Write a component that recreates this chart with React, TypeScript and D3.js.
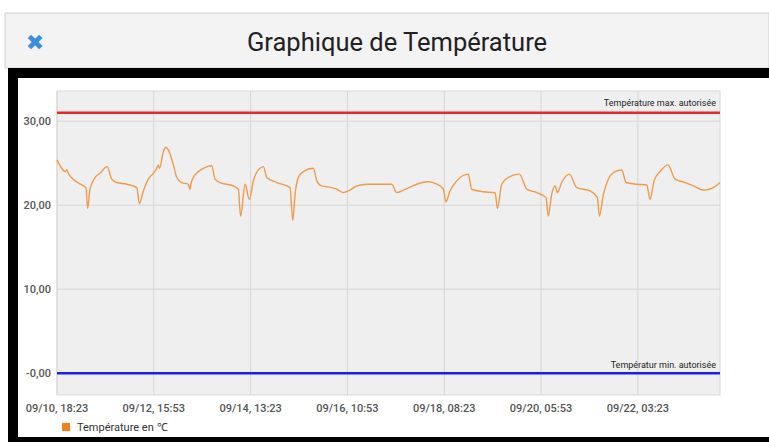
import React, { useEffect, useRef } from "react"
import * as d3 from "d3"

const startTime = new Date(2019, 8, 10, 18, 23)
const spanHours = 311.6

// hours since start
const hours = [
    0, 2.2, 3.8, 4.6, 5.3, 12.4, 13.6, 14.4, 15.5, 17.9, 20.2, 23.6, 25.7, 28.1, 32.8, 37.5, 38.7, 40.6, 42.9,
    45.3, 46.9, 47.6, 48.2, 50.0, 51.2, 52.3, 54.7, 56.3, 58.6, 61.7, 62.5, 63.0, 64.1, 66.4, 68.8, 72.7, 74.3,
    76.6, 82.9, 85.2, 86.3, 88.4, 90.4, 92.3, 94.6, 97.0, 98.6, 103.3, 109.5, 110.8, 111.9, 113.4, 115.8, 120.5,
    122.1, 124.4, 129.1, 131.5, 134.6, 137.7, 140.9, 145.6, 151.8, 157.3, 159.7, 162.8, 169.1, 174.5, 178.5,
    181.6, 182.8, 184.7, 187.9, 193.3, 194.9, 200.4, 205.9, 207.0, 209.0, 212.1, 217.3, 220.8, 225.5, 229.8,
    230.9, 232.5, 234.1, 235.2, 237.2, 240.8, 244.3, 250.5, 254.0, 254.9, 256.8, 259.1, 262.3, 265.4, 267.5,
    272.5, 277.2, 278.7, 280.6, 283.4, 287.1, 290.5, 295.2, 299.1, 304.1, 308.5, 311.6
]
const temps = [
    25.4, 24.4, 24.0, 24.2, 23.8, 22.3, 22.1, 19.6, 21.9, 23.3, 23.8, 24.6, 23.1, 22.7, 22.5, 22.1, 20.2, 21.7, 23.1,
    23.8, 24.4, 24.8, 24.4, 26.4, 26.9, 26.6, 24.8, 23.3, 22.7, 22.5, 21.9, 22.6, 23.3, 24.0, 24.4, 24.7, 23.1,
    22.7, 22.3, 21.9, 18.7, 22.5, 20.7, 22.9, 24.2, 24.6, 23.3, 22.7, 22.1, 18.2, 21.3, 23.3, 24.0, 24.4,
    22.9, 22.3, 22.1, 21.9, 21.5, 21.8, 22.3, 22.5, 22.5, 22.5, 21.5, 21.8, 22.5, 22.8, 22.5,
    21.9, 20.4, 21.7, 22.9, 23.7, 21.9, 21.6, 21.5, 19.6, 22.5, 23.3, 23.7, 21.9, 21.5, 20.9,
    18.7, 21.3, 22.3, 21.5, 22.7, 23.7, 22.1, 21.7, 20.9, 18.7, 21.3, 23.1, 24.0, 24.2, 22.7,
    22.5, 22.4, 20.7, 22.9, 24.0, 24.8, 23.1, 22.7, 22.3, 21.8, 22.1, 22.7
]

const maxAllowed = 31
const minAllowed = 0
const yTicks = [0, 10, 20, 30]
const yTickLabels = ["-0,00", "10,00", "20,00", "30,00"]
const xTickHours = [0, 45.5, 91, 136.5, 182, 227.5, 273]

const hourMs = 3600 * 1000

function Chart() {
    const ref = useRef(null)

    useEffect(() => {
        const svg = d3.select(ref.current)
        svg.selectAll("*").remove()
        const W = 769
        const H = 442
        const left = 57, right = 720, top = 91, bottom = 395

        // frame
        svg.append("rect").attr("width", W).attr("height", H).attr("fill", "#fff")
        svg.append("rect").attr("x", 5).attr("y", 13).attr("width", W - 5).attr("height", 55)
            .attr("fill", "#f3f3f3").attr("stroke", "#cfcfcf")
        svg.append("rect").attr("x", 8).attr("y", 68).attr("width", W - 8).attr("height", H - 68).attr("fill", "#000")
        svg.append("rect").attr("x", 18).attr("y", 78).attr("width", W - 18).attr("height", 359).attr("fill", "#fff")
        svg.append("text").attr("x", 35).attr("y", 50).attr("text-anchor", "middle")
            .attr("font-family", "DejaVu Sans").attr("font-size", 22).attr("font-weight", "bold")
            .attr("fill", "#3b8edb").text("✖")
        svg.append("text").attr("x", 397).attr("y", 51).attr("text-anchor", "middle")
            .attr("font-family", "Roboto").attr("font-size", 25.5).attr("fill", "#222")
            .text("Graphique de Température")

        const x = d3.scaleTime()
            .domain([startTime, new Date(+startTime + spanHours * hourMs)])
            .range([left, right])
        const y = d3.scaleLinear().domain([-2.6, 33.6]).range([bottom, top])

        svg.append("rect").attr("x", left).attr("y", top).attr("width", right - left).attr("height", bottom - top)
            .attr("fill", "#efefef").attr("stroke", "#d9d9d9")

        const xTicks = xTickHours.map(h => new Date(+startTime + h * hourMs))
        const fmt = d3.timeFormat("%m/%d, %H:%M")

        svg.append("g").selectAll("line").data(xTicks).enter().append("line")
            .attr("x1", d => x(d)).attr("x2", d => x(d)).attr("y1", top).attr("y2", bottom)
            .attr("stroke", "#d6d6d6").attr("stroke-width", 1)
        svg.append("g").selectAll("line").data(yTicks).enter().append("line")
            .attr("x1", left).attr("x2", right).attr("y1", d => y(d)).attr("y2", d => y(d))
            .attr("stroke", "#d6d6d6").attr("stroke-width", 1)

        svg.append("g").selectAll("text").data(yTicks).enter().append("text")
            .attr("x", 51).attr("y", d => y(d)).attr("dy", "0.35em").attr("text-anchor", "end")
            .attr("font-family", "Roboto").attr("font-size", 11).attr("font-weight", 500).attr("fill", "#555")
            .text((d, i) => yTickLabels[i])
        svg.append("g").selectAll("text").data(xTicks).enter().append("text")
            .attr("x", d => x(d)).attr("y", 408).attr("dy", "0.35em").attr("text-anchor", "middle")
            .attr("font-family", "Roboto").attr("font-size", 11).attr("font-weight", 500).attr("fill", "#555")
            .text(d => fmt(d))

        // limits
        svg.append("line").attr("x1", left).attr("x2", right).attr("y1", y(maxAllowed)).attr("y2", y(maxAllowed))
            .attr("stroke", "#e8262e").attr("stroke-width", 2.5)
        svg.append("line").attr("x1", left).attr("x2", right).attr("y1", y(minAllowed)).attr("y2", y(minAllowed))
            .attr("stroke", "#1e1ee6").attr("stroke-width", 2.5)
        svg.append("text").attr("x", 716).attr("y", y(maxAllowed) - 10).attr("dy", "0.35em").attr("text-anchor", "end")
            .attr("font-family", "Roboto").attr("font-size", 9).attr("fill", "#222")
            .text("Température max. autorisée")
        svg.append("text").attr("x", 716).attr("y", y(minAllowed) - 8).attr("dy", "0.35em").attr("text-anchor", "end")
            .attr("font-family", "Roboto").attr("font-size", 9).attr("fill", "#222")
            .text("Températur min. autorisée")

        // series
        const points = hours.map((h, i) => [new Date(+startTime + h * hourMs), temps[i]])
        const line = d3.line()
            .x(d => x(d[0]))
            .y(d => y(d[1]))
            .curve(d3.curveMonotoneX)
        svg.append("path").datum(points).attr("d", line)
            .attr("fill", "none").attr("stroke", "#f09a4a").attr("stroke-width", 1.4)

        // legend
        svg.append("rect").attr("x", 62).attr("y", 423).attr("width", 8).attr("height", 8).attr("fill", "#f07f1e")
        svg.append("text").attr("x", 77).attr("y", 427).attr("dy", "0.35em")
            .attr("font-family", "Roboto").attr("font-size", 11).attr("fill", "#333")
            .text("Température en ℃")
    }, [])

    return <svg ref={ref} width={769} height={442} style={{ position: "absolute", left: 0, top: 0 }} />
}

export default function App() {
    return <Chart />
}
